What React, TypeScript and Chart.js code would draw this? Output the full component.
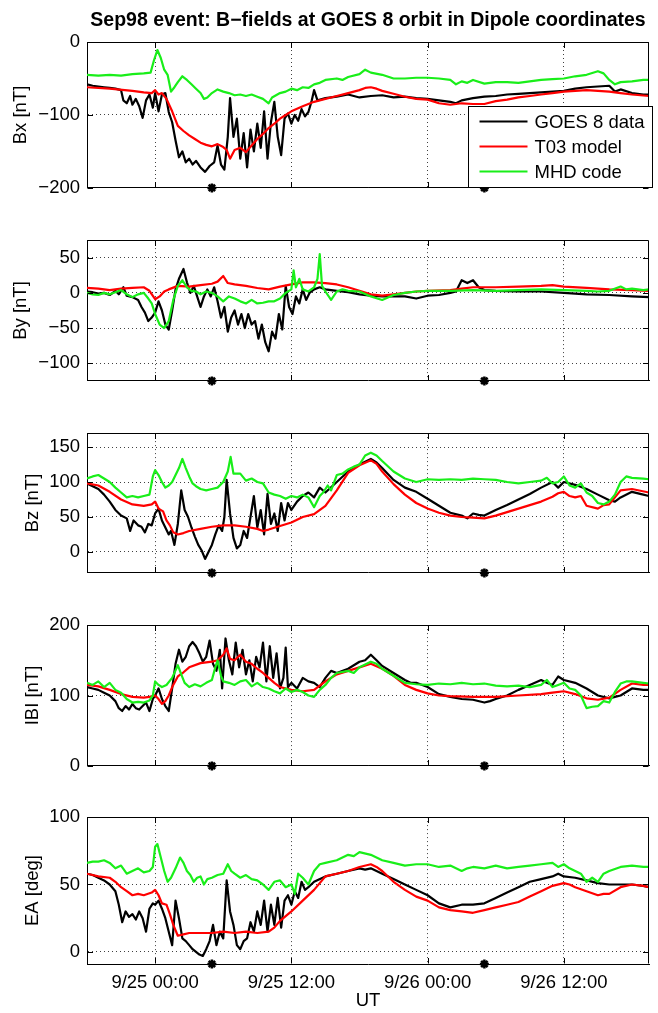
import React, { useEffect, useRef } from 'react';
import { Chart, registerables } from 'chart.js';

Chart.register(...registerables);

type Pt = [number, number];

const FONT = '"Liberation Sans", Arial, Helvetica, sans-serif';
const W = 658;
const H = 1013;

// ---- axis / categories (hours relative to 9/25 00:00 UT) ----
const X_MIN = -6;
const X_MAX = 43.5;
const X_TICKS = [0, 12, 24, 36];
const X_TICK_LABELS = ['9/25 00:00', '9/25 12:00', '9/26 00:00', '9/26 12:00'];
const MARKER_TIMES = [5, 29];

const TITLE = 'Sep98 event: B\u2212fields at GOES 8 orbit in Dipole coordinates';
const SERIES_NAMES = ['GOES 8 data', 'T03 model', 'MHD code'];
const SERIES_COLORS = ['#000000', '#ff0000', '#19ee19'];

// ---- Bx [nT] ----
const BX_GOES: Pt[] = [[-6,-58],[-5.5,-60],[-5,-61],[-4.5,-62],[-4,-63],[-3.5,-64],[-3,-66],[-2.8,-80],[-2.5,-84],[-2.2,-74],[-2,-86],[-1.7,-78],[-1.4,-88],[-1.1,-104],[-0.8,-80],[-0.5,-72],[-0.2,-90],[0,-70],[0.3,-95],[0.6,-72],[0.9,-70],[1.2,-96],[1.5,-110],[1.8,-135],[2.1,-158],[2.4,-150],[2.7,-165],[3,-160],[3.3,-168],[3.6,-163],[4,-172],[4.4,-178],[4.8,-170],[5.2,-165],[5.5,-142],[5.8,-168],[6.1,-175],[6.4,-130],[6.6,-77],[6.9,-130],[7.2,-105],[7.5,-160],[7.8,-125],[8.1,-172],[8.4,-120],[8.7,-150],[9,-112],[9.3,-145],[9.6,-95],[9.9,-160],[10.2,-110],[10.5,-82],[10.8,-130],[11.1,-155],[11.4,-105],[11.7,-98],[12,-112],[12.3,-100],[12.6,-108],[12.9,-92],[13.2,-102],[13.5,-96],[13.8,-80],[14,-66],[14.3,-80],[15,-77],[16,-75],[17,-72],[18,-76],[19,-74],[20,-73],[21,-76],[22,-75],[23,-77],[24,-78],[25,-80],[26,-82],[26.5,-84],[27,-80],[28,-77],[29,-75],[30,-74],[31,-72],[32,-71],[33,-70],[34,-69],[35,-68],[36,-67],[37,-64],[38,-62],[39,-61],[40,-60],[40.5,-68],[41,-65],[42,-70],[43,-72],[43.5,-72]];
const BX_T03: Pt[] = [[-6,-62],[-4,-64],[-2,-67],[-1,-69],[-0.3,-70],[0,-66],[0.3,-72],[0.6,-70],[1,-78],[1.5,-95],[2,-115],[2.5,-122],[3,-128],[3.5,-133],[4,-138],[4.5,-141],[5,-143],[5.5,-140],[6,-144],[6.3,-148],[6.6,-160],[7,-148],[7.5,-145],[8,-151],[8.5,-142],[9,-133],[9.5,-126],[10,-118],[10.5,-112],[11,-105],[11.5,-100],[12,-95],[13,-88],[14,-82],[15,-78],[16,-74],[17,-70],[18,-66],[18.5,-63],[19,-62],[19.5,-64],[20,-67],[21,-71],[22,-75],[23,-78],[24,-79],[25,-84],[26,-86],[27,-84],[28,-85],[29,-85],[30,-81],[31,-79],[32,-76],[33,-74],[34,-72],[35,-70],[36,-68],[37,-67],[38,-66],[39,-67],[40,-68],[41,-70],[42,-72],[43.5,-74]];
const BX_MHD: Pt[] = [[-6,-45],[-5,-46],[-4,-45],[-3,-46],[-2,-44],[-1,-43],[-0.4,-42],[-0.1,-25],[0.2,-11],[0.5,-22],[0.8,-38],[1.1,-45],[1.4,-68],[1.7,-62],[2,-55],[2.4,-47],[2.8,-52],[3.2,-58],[3.6,-64],[4,-70],[4.3,-78],[4.6,-76],[5,-70],[5.5,-65],[6,-68],[6.5,-70],[7,-73],[7.5,-72],[8,-74],[8.5,-72],[9,-75],[9.5,-78],[10,-84],[10.3,-76],[11,-70],[11.5,-68],[12,-64],[12.5,-66],[13,-62],[13.5,-63],[14,-58],[14.5,-56],[15,-52],[16,-50],[16.5,-52],[17,-48],[18,-44],[18.5,-38],[19,-42],[20,-45],[21,-50],[22,-50],[23,-49],[24,-49],[25,-50],[26,-52],[26.5,-58],[27,-54],[27.5,-56],[28,-52],[29,-57],[30,-55],[31,-55],[32,-56],[33,-54],[34,-52],[35,-51],[36,-50],[37,-47],[38,-45],[39,-40],[39.5,-43],[40,-52],[40.5,-58],[41,-55],[42,-54],[43,-52],[43.5,-52]];

// ---- By [nT] ----
const BY_GOES: Pt[] = [[-6,2],[-5.5,1],[-5,-1],[-4.5,0],[-4,-3],[-3.5,3],[-3.2,-2],[-2.8,8],[-2.5,-4],[-2,-6],[-1.5,-10],[-1.2,-20],[-0.9,-28],[-0.6,-40],[-0.3,-35],[0,-28],[0.3,-12],[0.6,-25],[0.9,-45],[1.2,-52],[1.5,-25],[1.8,5],[2.1,20],[2.5,34],[2.8,15],[3.1,0],[3.4,10],[3.7,-5],[4,-20],[4.3,-5],[4.6,5],[4.9,-5],[5.2,8],[5.5,-12],[5.8,-35],[6.1,-20],[6.4,-55],[6.7,-35],[7,-25],[7.3,-45],[7.6,-30],[7.9,-50],[8.2,-30],[8.5,-45],[8.8,-40],[9.1,-65],[9.4,-45],[9.7,-70],[10,-83],[10.3,-55],[10.6,-65],[10.9,-30],[11.2,-52],[11.5,10],[11.8,-20],[12.1,-30],[12.4,-5],[12.7,-15],[13,5],[13.3,-10],[13.6,0],[14,5],[14.5,8],[15,5],[16,3],[17,1],[18,-2],[19,-4],[20,-5],[21,-5],[22,-5],[23,-8],[24,-4],[25,-3],[26,0],[26.5,2],[27,18],[27.5,14],[28,18],[28.5,8],[29,4],[30,3],[32,2],[34,2],[36,0],[38,-2],[40,-3],[42,-5],[43.5,-6]];
const BY_T03: Pt[] = [[-6,7],[-5,6],[-4,4],[-3,6],[-2,7],[-1,8],[-0.5,3],[0,-9],[0.4,-5],[0.8,2],[1.2,5],[2,10],[3,9],[4,11],[5,13],[5.5,16],[6,24],[6.4,14],[7,12],[8,10],[9,7],[10,5],[11,9],[12,12],[13,15],[14,15],[15,14],[16,12],[17,8],[18,3],[19,-2],[20,-4],[21,-2],[22,0],[23,2],[24,3],[26,4],[27,6],[28,8],[30,8],[32,9],[34,10],[35,11],[36,9],[38,7],[40,5],[42,4],[43.5,3]];
const BY_MHD: Pt[] = [[-6,0],[-5.5,-2],[-5,-3],[-4.5,0],[-4,-2],[-3.5,1],[-3,4],[-2.5,-2],[-2,-6],[-1.5,-2],[-1,0],[-0.6,-8],[-0.3,-15],[0,-30],[0.4,-45],[0.8,-50],[1.2,-40],[1.6,-10],[2,10],[2.4,18],[2.8,8],[3.2,3],[3.6,2],[4,-2],[4.5,2],[5,0],[5.5,-5],[6,-12],[6.5,-5],[7,-8],[7.5,-12],[8,-15],[8.5,-10],[9,-15],[9.5,-14],[10,-12],[10.5,-12],[11,-8],[11.5,0],[12,5],[12.2,32],[12.4,8],[12.7,20],[13,5],[13.5,2],[14,8],[14.3,20],[14.5,55],[14.7,10],[15,2],[15.5,-10],[16,2],[16.5,5],[17,3],[18,2],[19,-5],[20,-10],[21,-3],[22,0],[23,2],[24,3],[26,3],[28,4],[30,3],[32,4],[34,5],[36,4],[38,3],[39,2],[40,3],[41,9],[41.5,5],[42,6],[43,4],[43.5,5]];

// ---- Bz [nT] ----
const BZ_GOES: Pt[] = [[-6,98],[-5.5,94],[-5,90],[-4.5,82],[-4,72],[-3.5,60],[-3,52],[-2.5,48],[-2.2,30],[-1.9,45],[-1.5,38],[-1.2,36],[-0.9,28],[-0.6,40],[-0.3,38],[0,55],[0.3,62],[0.6,45],[0.9,35],[1.2,25],[1.4,30],[1.7,10],[2,40],[2.3,88],[2.6,60],[2.9,50],[3.2,35],[3.5,22],[3.8,10],[4.1,2],[4.4,-10],[4.7,0],[5,10],[5.3,25],[5.6,38],[5.9,30],[6.1,50],[6.3,103],[6.6,55],[6.9,20],[7.2,5],[7.5,10],[7.8,30],[8.1,20],[8.4,50],[8.7,80],[9,35],[9.3,60],[9.6,25],[9.9,83],[10.2,40],[10.5,55],[10.8,30],[11.1,70],[11.4,45],[11.7,70],[12,60],[12.5,72],[13,80],[13.5,85],[14,78],[14.5,92],[15,85],[16,100],[17,115],[18,125],[19,133],[19.5,128],[20,120],[21,103],[22,92],[23,86],[24,76],[25,66],[26,56],[27,52],[27.5,48],[28,55],[28.5,53],[29,52],[30,60],[31,67],[32,75],[33,83],[34,92],[35,100],[35.5,92],[36,100],[37,96],[38,90],[39,82],[40,74],[40.5,72],[41,78],[42,86],[43,82],[43.5,80]];
const BZ_T03: Pt[] = [[-6,98],[-5,95],[-4,86],[-3,75],[-2,68],[-1,66],[-0.3,68],[0,72],[0.3,62],[0.7,58],[1,45],[1.3,38],[1.6,28],[2,25],[2.5,27],[3,30],[4,33],[5,36],[6,38],[7,38],[8,36],[9,33],[9.5,30],[10,32],[11,37],[12,42],[13,50],[14,54],[15,66],[16,88],[17,113],[18,124],[19,131],[19.5,126],[20,115],[21,97],[22,82],[23,70],[24,62],[25,56],[26,52],[27,50],[28,49],[29,48],[30,52],[31,57],[32,62],[33,67],[34,72],[35,79],[35.5,84],[36,86],[36.5,80],[37,78],[37.5,80],[38,66],[39,62],[39.5,67],[40,68],[41,88],[42,90],[43.5,85]];
const BZ_MHD: Pt[] = [[-6,105],[-5.5,108],[-5,110],[-4.5,105],[-4,100],[-3.5,92],[-3,85],[-2.5,78],[-2,80],[-1.5,78],[-1,80],[-0.5,82],[-0.2,108],[0,117],[0.3,110],[0.6,100],[0.9,92],[1.2,95],[1.5,100],[1.8,110],[2.1,120],[2.4,133],[2.7,120],[3,108],[3.3,98],[3.6,94],[4,90],[4.5,88],[5,90],[5.5,92],[6,100],[6.4,115],[6.65,136],[6.9,112],[7.5,112],[8,102],[8.5,105],[9,100],[9.5,98],[10,85],[10.5,82],[11,80],[11.5,76],[12,80],[12.5,78],[13,82],[13.5,78],[14,64],[14.5,80],[14.8,85],[15.2,95],[15.5,88],[16,110],[16.5,112],[17,118],[17.5,122],[18,125],[18.5,138],[19,142],[19.5,138],[20,130],[21,115],[22,105],[23,100],[24,104],[25,103],[26,104],[27,103],[28,105],[29,104],[30,103],[31,100],[32,98],[33,100],[34,102],[34.5,106],[35,98],[35.5,100],[36,108],[36.5,95],[37,92],[37.5,98],[38,85],[38.5,80],[39,70],[39.5,68],[40,72],[40.5,82],[41,100],[41.5,108],[42,106],[43,105],[43.5,104]];

// ---- |B| [nT] ----
const BB_GOES: Pt[] = [[-6,112],[-5.5,110],[-5,108],[-4.5,104],[-4,100],[-3.5,92],[-3.2,82],[-2.9,78],[-2.6,85],[-2.3,80],[-2,88],[-1.7,82],[-1.4,80],[-1.1,85],[-0.8,90],[-0.5,78],[-0.2,95],[0,100],[0.3,110],[0.6,95],[0.9,85],[1.2,78],[1.5,110],[1.8,145],[2.1,165],[2.4,148],[2.7,155],[3,170],[3.3,176],[3.6,170],[3.9,160],[4.2,148],[4.5,155],[4.8,178],[5.1,145],[5.4,135],[5.7,165],[5.9,110],[6.2,181],[6.5,150],[6.8,130],[7.1,175],[7.4,140],[7.7,165],[8,130],[8.3,150],[8.6,120],[8.9,155],[9.2,140],[9.5,175],[9.8,120],[10.1,170],[10.4,125],[10.7,160],[11,110],[11.3,125],[11.5,168],[11.7,112],[12,118],[12.5,110],[13,125],[13.5,120],[14,118],[14.5,112],[15,125],[15.5,135],[16,132],[17,138],[18,148],[18.5,150],[19,158],[19.5,150],[20,142],[21,132],[22,122],[22.5,118],[23,118],[24,112],[25,102],[26,98],[27,95],[28,94],[29,90],[29.5,92],[30,95],[31,100],[32,108],[33,115],[34,122],[34.5,118],[35,115],[35.5,127],[36,122],[37,118],[38,110],[39,100],[40,96],[40.5,98],[41,100],[42,110],[43,108],[43.5,108]];
const BB_T03: Pt[] = [[-6,115],[-5,113],[-4,108],[-3,102],[-2,98],[-1,97],[-0.5,98],[0,100],[0.3,95],[0.6,88],[0.9,92],[1.2,100],[1.5,112],[2,127],[2.5,133],[3,140],[4,146],[5,148],[5.5,150],[6,158],[6.3,167],[6.6,152],[7,150],[7.5,158],[8,148],[8.5,145],[9,138],[9.5,132],[10,125],[10.5,118],[11,112],[12,108],[13,106],[14,108],[15,120],[16,130],[17,135],[18,140],[19,145],[20,138],[21,128],[22,115],[23,108],[24,103],[25,100],[26,99],[28,98],[30,98],[32,100],[34,102],[35,104],[36,106],[37,102],[38,96],[39,94],[40,97],[41,108],[42,117],[43,115],[43.5,115]];
const BB_MHD: Pt[] = [[-6,118],[-5.5,115],[-5,120],[-4.5,112],[-4,118],[-3.5,108],[-3,104],[-2.5,95],[-2,90],[-1.5,91],[-1,90],[-0.5,93],[-0.2,100],[0,120],[0.3,115],[0.6,112],[1,115],[1.5,125],[2,143],[2.3,130],[2.6,118],[3,112],[3.5,116],[4,113],[4.5,118],[5,122],[5.3,140],[5.5,150],[5.8,128],[6,120],[6.5,118],[7,115],[7.5,120],[8,122],[8.5,113],[9,118],[9.5,112],[10,110],[10.5,106],[11,103],[11.5,110],[12,105],[12.5,108],[13,105],[13.5,100],[14,98],[14.5,108],[15,115],[15.5,125],[16,132],[17,135],[17.5,132],[18,140],[19,148],[19.5,145],[20,138],[21,128],[22,118],[23,116],[24,115],[25,117],[26,116],[27,118],[28,116],[29,117],[30,114],[31,113],[32,114],[33,112],[34,115],[34.5,122],[35,112],[35.5,115],[36,118],[36.5,110],[37,108],[37.5,100],[38,82],[38.5,84],[39,85],[39.5,92],[40,90],[40.5,105],[41,117],[41.5,120],[42,120],[43,118],[43.5,117]];

// ---- EA [deg] ----
const EA_GOES: Pt[] = [[-6,58],[-5.5,57],[-5,55],[-4.5,53],[-4,50],[-3.5,45],[-3.2,35],[-2.9,22],[-2.6,30],[-2.3,26],[-2,28],[-1.7,24],[-1.4,30],[-1.1,25],[-0.8,15],[-0.5,32],[-0.2,36],[0,35],[0.3,38],[0.6,32],[0.9,25],[1.2,15],[1.5,5],[1.8,38],[2.1,25],[2.4,10],[2.7,8],[3,5],[3.3,2],[3.6,0],[3.9,-2],[4.2,-3],[4.5,2],[4.8,8],[5.1,20],[5.4,5],[5.7,15],[6,10],[6.3,53],[6.6,30],[6.9,20],[7.2,5],[7.5,2],[7.8,8],[8.1,10],[8.4,22],[8.7,15],[9,30],[9.3,20],[9.6,38],[9.9,15],[10.2,35],[10.5,20],[10.8,40],[11.1,18],[11.4,38],[11.7,42],[12,35],[12.3,45],[12.6,40],[12.9,52],[13.2,46],[13.5,48],[14,52],[15,56],[16,58],[17,60],[18,62],[18.5,61],[19,62],[20,58],[21,54],[21.5,52],[22,50],[23,46],[24,42],[25,36],[26,33],[27,35],[28,35],[29,36],[30,40],[31,44],[32,48],[33,52],[34,54],[35,56],[35.5,58],[36,56],[37,55],[38,53],[39,51],[40,50],[41,50],[42,50],[43,49],[43.5,48]];
const EA_T03: Pt[] = [[-6,58],[-5,56],[-4,55],[-3.5,52],[-3,48],[-2.5,45],[-2,42],[-1.5,43],[-1,42],[-0.3,44],[0,46],[0.3,42],[0.6,36],[1,35],[1.3,28],[1.6,20],[2,12],[2.5,13],[3,14],[4,14],[5,14],[6,15],[7,14],[8,15],[9,14],[10,15],[10.5,18],[11,23],[12,30],[13,38],[14,46],[15,56],[16,58],[17,60],[18,63],[19,65],[19.5,63],[20,60],[21,52],[22,46],[23,41],[24,38],[25,33],[26,31],[27,30],[28,29],[29,31],[30,33],[31,35],[32,37],[33,41],[34,45],[35,49],[36,51],[36.5,50],[37,48],[38,45],[39,42],[39.5,43],[40,43],[41,48],[42,50],[43,49],[43.5,48]];
const EA_MHD: Pt[] = [[-6,66],[-5.5,67],[-5,67],[-4.5,68],[-4,66],[-3.5,62],[-3,64],[-2.5,58],[-2,60],[-1.5,62],[-1,59],[-0.5,60],[-0.2,63],[0,78],[0.2,80],[0.5,70],[0.8,60],[1.1,52],[1.4,55],[1.8,62],[2.2,70],[2.5,66],[2.8,60],[3.1,57],[3.4,52],[3.7,55],[4,56],[4.3,50],[4.6,54],[5,55],[5.5,57],[6,58],[6.4,65],[6.7,60],[7,58],[7.5,55],[8,57],[8.5,54],[9,53],[9.5,50],[10,46],[10.5,52],[11,53],[11.5,48],[12,50],[12.3,43],[12.6,58],[13,55],[13.5,50],[14,60],[14.5,65],[15,66],[16,68],[17,72],[17.5,71],[18,74],[19,72],[20,68],[21,66],[22,64],[23,65],[24,65],[25,63],[26,64],[27,60],[27.5,62],[28,63],[29,62],[30,64],[31,62],[32,63],[33,64],[34,65],[35,66],[35.5,63],[36,65],[36.5,62],[37,60],[37.5,58],[38,52],[38.5,55],[39,52],[39.5,58],[40,60],[41,63],[42,64],[43,63],[43.5,63]];

// ---- panels ----
const PANEL_LABELS = ['Bx [nT]', 'By [nT]', 'Bz [nT]', 'IBI [nT]', 'EA [deg]'];
const PANEL_RANGES: [number, number][] = [[-200, 0], [-125, 75], [-30, 170], [0, 200], [-9, 100]];
const PANEL_TICKS = [[-200, -100, 0], [-100, -50, 0, 50], [0, 50, 100, 150], [0, 100, 200], [0, 50, 100]];
const PANEL_DATA: Pt[][][] = [
  [BX_GOES, BX_T03, BX_MHD],
  [BY_GOES, BY_T03, BY_MHD],
  [BZ_GOES, BZ_T03, BZ_MHD],
  [BB_GOES, BB_T03, BB_MHD],
  [EA_GOES, EA_T03, EA_MHD],
];

// ---- layout ----
const PLOT_TOP = [42, 234, 427, 619, 811];
const PLOT_BOTTOM = [194, 387, 579, 772, 964];
const YTITLE_PAD = [10, 10, 22, 22, 22];
const PLOT_LEFT = 87;
const PLOT_RIGHT = 649;
const FS = 18.5;

const fmt = (v: number) => (v < 0 ? '\u2212' + Math.abs(v) : String(v));

const framePlugin = {
  id: 'frame',
  afterDraw(chart: any, _args: any, opts: any) {
    const { ctx, chartArea: a } = chart;
    const xs = chart.scales.x;
    const ys = chart.scales.y;
    ctx.save();
    ctx.strokeStyle = '#000';
    ctx.lineWidth = 1;
    ctx.setLineDash([]);
    const top = Math.round(a.top) + 0.5;
    const bot = Math.round(a.bottom) - 0.5;
    const left = Math.round(a.left) + 0.5;
    const right = Math.round(a.right) - 0.5;
    ctx.beginPath();
    ctx.moveTo(left, top);
    ctx.lineTo(right, top);
    ctx.lineTo(right, bot);
    ctx.stroke();
    const TL = 5.5;
    ctx.beginPath();
    xs.ticks.forEach((t: any) => {
      const px = Math.round(xs.getPixelForValue(t.value)) + 0.5;
      ctx.moveTo(px, bot); ctx.lineTo(px, bot - TL);
      ctx.moveTo(px, top); ctx.lineTo(px, top + TL);
    });
    ys.ticks.forEach((t: any) => {
      const py = Math.round(ys.getPixelForValue(t.value)) + 0.5;
      ctx.moveTo(left, py); ctx.lineTo(left + TL, py);
      ctx.moveTo(right, py); ctx.lineTo(right - TL, py);
    });
    ctx.stroke();

    if (opts && opts.title) {
      ctx.fillStyle = '#000';
      ctx.font = `bold 19.5px ${FONT}`;
      ctx.textAlign = 'center';
      ctx.textBaseline = 'alphabetic';
      ctx.fillText(opts.title, (a.left + a.right) / 2, 26);
    }
    if (opts && opts.legend) {
      const bx0 = Math.round(a.right) - 180.5;
      const bx1 = Math.round(a.right) + 3.5;
      const by1 = Math.round(a.bottom) - 0.5;
      const by0 = by1 - 81;
      ctx.fillStyle = '#fff';
      ctx.fillRect(bx0, by0, bx1 - bx0, by1 - by0);
      ctx.strokeStyle = '#000';
      ctx.lineWidth = 1;
      ctx.strokeRect(bx0, by0, bx1 - bx0, by1 - by0);
      ctx.font = `${FS}px ${FONT}`;
      ctx.textAlign = 'left';
      ctx.textBaseline = 'middle';
      SERIES_NAMES.forEach((name, k) => {
        const ry = by0 + 15 + k * 25;
        ctx.strokeStyle = SERIES_COLORS[k];
        ctx.lineWidth = 2;
        ctx.beginPath();
        ctx.moveTo(bx0 + 11, ry);
        ctx.lineTo(bx0 + 59, ry);
        ctx.stroke();
        ctx.fillStyle = '#000';
        ctx.fillText(name, bx0 + 66, ry + 1);
      });
    }
    ctx.restore();
  },
};

function Panel({ index }: { index: number }) {
  const ref = useRef<HTMLCanvasElement>(null);
  const isLast = index === PANEL_DATA.length - 1;
  const canvasTop = index === 0 ? 0 : PLOT_TOP[index] - 12;
  const canvasBottom = isLast ? H : PLOT_BOTTOM[index] + 12;
  const height = canvasBottom - canvasTop;

  useEffect(() => {
    const [min, max] = PANEL_RANGES[index];
    const datasets: any[] = PANEL_DATA[index].map((s, k) => ({
      label: SERIES_NAMES[k],
      data: s.map(([t, v]) => ({ x: t, y: v })),
      borderColor: SERIES_COLORS[k],
      backgroundColor: SERIES_COLORS[k],
      borderWidth: 2.2,
      pointRadius: 0,
      pointHoverRadius: 0,
      tension: 0,
      fill: false,
      borderJoinStyle: 'round',
      order: 3 - k,
    }));
    datasets.push({
      label: 'markers',
      data: MARKER_TIMES.map((t) => ({ x: t, y: min })),
      showLine: false,
      pointStyle: 'star',
      pointRadius: 4.5,
      pointBorderWidth: 2.5,
      borderColor: '#000',
      backgroundColor: '#000',
      clip: false,
      order: 0,
    });
    const yTicks = PANEL_TICKS[index];
    const chart = new Chart(ref.current as HTMLCanvasElement, {
      type: 'line',
      data: { datasets },
      options: {
        responsive: false,
        animation: false,
        devicePixelRatio: 1,
        events: [],
        layout: {
          padding: {
            left: 0,
            right: W - PLOT_RIGHT,
            top: PLOT_TOP[index] - canvasTop,
            bottom: isLast ? 0 : canvasBottom - PLOT_BOTTOM[index],
          },
        },
        plugins: {
          legend: { display: false },
          tooltip: { enabled: false },
          title: { display: false },
          frame: { title: index === 0 ? TITLE : null, legend: index === 0 },
        } as any,
        scales: {
          x: {
            type: 'linear',
            min: X_MIN,
            max: X_MAX,
            afterBuildTicks: (s: any) => {
              s.ticks = X_TICKS.map((v) => ({ value: v }));
            },
            afterFit: (s: any) => {
              s.height = isLast ? H - PLOT_BOTTOM[index] : 0;
            },
            ticks: {
              display: isLast,
              autoSkip: false,
              maxRotation: 0,
              padding: 8,
              color: '#000',
              font: { family: FONT, size: FS },
              callback: (_v: any, i: number) => X_TICK_LABELS[i],
            },
            grid: { color: 'rgba(0,0,0,0.75)', lineWidth: 1, drawTicks: false },
            border: { display: true, color: '#000', width: 1, dash: [1, 3] },
            title: {
              display: isLast,
              text: 'UT',
              color: '#000',
              font: { family: FONT, size: FS },
              padding: { top: 0, bottom: 1 },
            },
          },
          y: {
            type: 'linear',
            min,
            max,
            afterBuildTicks: (s: any) => {
              s.ticks = yTicks.map((v) => ({ value: v }));
            },
            afterFit: (s: any) => {
              s.width = PLOT_LEFT;
            },
            ticks: {
              padding: 7,
              color: '#000',
              font: { family: FONT, size: FS },
              callback: (v: any) => fmt(Number(v)),
            },
            grid: { color: 'rgba(0,0,0,0.75)', lineWidth: 1, drawTicks: false },
            border: { display: true, color: '#000', width: 1, dash: [1, 3] },
            title: {
              display: true,
              text: PANEL_LABELS[index],
              color: '#000',
              font: { family: FONT, size: FS },
              padding: { top: YTITLE_PAD[index], bottom: 0 },
            },
          },
        },
      },
      plugins: [framePlugin as any],
    });
    return () => chart.destroy();
  }, [index]);

  return (
    <canvas
      ref={ref}
      width={W}
      height={height}
      style={{ position: 'absolute', left: 0, top: canvasTop, width: W, height, display: 'block' }}
    />
  );
}

export default function App() {
  return (
    <div style={{ position: 'absolute', left: 0, top: 0, width: W, height: H, background: '#fff', overflow: 'hidden' }}>
      {PANEL_DATA.map((_, i) => (
        <Panel key={i} index={i} />
      ))}
    </div>
  );
}
